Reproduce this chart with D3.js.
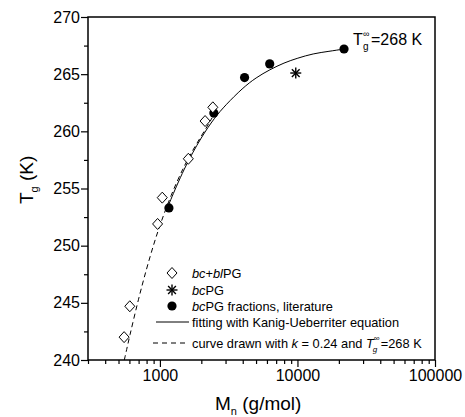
<!DOCTYPE html>
<html lang="en">
<head>
<meta charset="UTF-8">
<script src="https://d3js.org/d3.v7.min.js"></script>
<title>Tg vs Mn</title>
<style>
  body { margin: 0; background: #fff; }
  text { font-family: "Liberation Sans", Arial, sans-serif; fill: #000; }
</style>
</head>
<body>
<script>
// data
const blendM = [549, 604, 962, 1040, 1609, 2130, 2425];
const blendT = [242.0, 244.7, 251.9, 254.2, 257.6, 260.9, 262.1];
const bcM = [9720];
const bcT = [265.1];
const litM = [1163, 2466, 4126, 6283, 21800];
const litT = [253.3, 261.6, 264.7, 265.9, 267.2];
const fitM = [1150, 1500, 2000, 2500, 3000, 4000, 5000, 6300, 8000, 10000, 13000, 17000, 21800];
const fitT = [253.5, 256.8, 259.5, 261.2, 262.3, 263.8, 264.7, 265.4, 266.0, 266.4, 266.8, 267.0, 267.2];
const dashM = [551, 600, 700, 800, 900, 1000, 1200, 1500, 1800, 2200, 2400];
const dashT = [240.0, 242.0, 245.4, 248.0, 250.1, 251.8, 254.4, 257.0, 258.7, 260.4, 261.2];
const xMajor = [1000, 10000, 100000];
const yMajor = [240, 245, 250, 255, 260, 265, 270];

const W = 465, H = 417;
const margin = {top: 17, right: 30, bottom: 57, left: 88};

const svg = d3.select('body').append('svg')
    .attr('width', W)
    .attr('height', H);

const x = d3.scaleLog().domain([300, 100000]).range([margin.left, W - margin.right]);
const y = d3.scaleLinear().domain([240, 270]).range([H - margin.bottom, margin.top]);

const zip = (a, b) => a.map((v, i) => [v, b[i]]);

// axes
const xMinor = x.ticks().filter(t => !xMajor.includes(t));
svg.append('g')
    .attr('transform', `translate(0,${y(240)})`)
    .call(d3.axisBottom(x).tickValues(xMinor).tickSize(4).tickFormat(''))
    .call(g => g.select('.domain').remove());
svg.append('g')
    .attr('transform', `translate(0,${y(240)})`)
    .call(d3.axisBottom(x).tickValues(xMajor).tickSize(7).tickPadding(3).tickFormat(d3.format('d')))
    .call(g => g.select('.domain').remove())
    .call(g => g.selectAll('text').attr('font-size', 16).attr('font-family', '"Liberation Sans", Arial, sans-serif'));

const yMinor = d3.range(242.5, 270, 5);
svg.append('g')
    .attr('transform', `translate(${x(300)},0)`)
    .call(d3.axisLeft(y).tickValues(yMinor).tickSize(4).tickFormat(''))
    .call(g => g.select('.domain').remove());
svg.append('g')
    .attr('transform', `translate(${x(300)},0)`)
    .call(d3.axisLeft(y).tickValues(yMajor).tickSize(7).tickPadding(1))
    .call(g => g.select('.domain').remove())
    .call(g => g.selectAll('text').attr('font-size', 16).attr('font-family', '"Liberation Sans", Arial, sans-serif'));

svg.selectAll('.tick line').attr('stroke', '#000').attr('stroke-width', 1.2);

// frame
svg.append('rect')
    .attr('x', x(300)).attr('y', y(270))
    .attr('width', x(100000) - x(300)).attr('height', y(240) - y(270))
    .attr('fill', 'none').attr('stroke', '#000').attr('stroke-width', 1.5);

// curves
const line = d3.line().x(d => x(d[0])).y(d => y(d[1])).curve(d3.curveBasis);
svg.append('path').datum(zip(dashM, dashT))
    .attr('d', line).attr('fill', 'none').attr('stroke', '#000')
    .attr('stroke-width', 1).attr('stroke-dasharray', '5,3.5');
svg.append('path').datum(zip(fitM, fitT))
    .attr('d', line).attr('fill', 'none').attr('stroke', '#000').attr('stroke-width', 1);

// markers
const diamond = (g, cx, cy) => g.append('path')
    .attr('d', `M${cx},${cy - 5.5}L${cx + 5},${cy}L${cx},${cy + 5.5}L${cx - 5},${cy}Z`)
    .attr('fill', '#fff').attr('stroke', '#000').attr('stroke-width', 1);
const star = (g, cx, cy) => {
    const r = 5.5;
    [0, 45, 90, 135].forEach(a => {
        const rad = a * Math.PI / 180;
        g.append('line')
            .attr('x1', cx - r * Math.cos(rad)).attr('y1', cy - r * Math.sin(rad))
            .attr('x2', cx + r * Math.cos(rad)).attr('y2', cy + r * Math.sin(rad))
            .attr('stroke', '#000').attr('stroke-width', 1.4);
    });
};
const dot = (g, cx, cy) => g.append('circle')
    .attr('cx', cx).attr('cy', cy).attr('r', 4.6).attr('fill', '#000');

const marks = svg.append('g');
zip(litM, litT).forEach(d => dot(marks, x(d[0]), y(d[1])));
zip(blendM, blendT).forEach(d => diamond(marks, x(d[0]), y(d[1])));
zip(bcM, bcT).forEach(d => star(marks, x(d[0]), y(d[1])));

// axis titles
svg.append('text')
    .attr('x', 215).attr('y', 410)
    .attr('font-size', 19)
    .call(t => {
        t.append('tspan').text('M');
        t.append('tspan').attr('font-size', 11).attr('dy', 5).text('n');
        t.append('tspan').attr('dy', -5).text(' (g/mol)');
    });

svg.append('text')
    .attr('transform', 'translate(33,204) rotate(-90)')
    .attr('font-size', 19)
    .call(t => {
        t.append('tspan').text('T');
        t.append('tspan').attr('font-size', 11).attr('dy', 5).text('g');
        t.append('tspan').attr('dy', -5).text(' (K)');
    });

// T_g^inf label
const lab = svg.append('g').attr('transform', 'translate(353,45)');
lab.append('text').attr('font-size', 16).text('T');
lab.append('text').attr('x', 10).attr('y', -8).attr('font-size', 9).text('∞');
lab.append('text').attr('x', 10).attr('y', 5).attr('font-size', 10).text('g');
lab.append('text').attr('x', 18).attr('font-size', 16).text('=268 K');

// legend
const lg = svg.append('g').attr('font-size', 12.8);
const lx = 172, tx = 192;
const rows = [273, 290, 306, 322, 343];
diamond(lg, lx, rows[0]);
star(lg, lx, rows[1]);
dot(lg, lx, rows[2]);
lg.append('line').attr('x1', 156).attr('x2', 189).attr('y1', rows[3]).attr('y2', rows[3])
    .attr('stroke', '#000').attr('stroke-width', 1);
lg.append('line').attr('x1', 153).attr('x2', 189).attr('y1', rows[4]).attr('y2', rows[4])
    .attr('stroke', '#000').attr('stroke-width', 1).attr('stroke-dasharray', '5,4');

const row = (yy) => lg.append('text').attr('x', tx).attr('y', yy + 4.5);
row(rows[0]).call(t => {
    t.append('tspan').attr('font-style', 'italic').text('bc');
    t.append('tspan').text('+');
    t.append('tspan').attr('font-style', 'italic').text('bl');
    t.append('tspan').text('PG');
});
row(rows[1]).call(t => {
    t.append('tspan').attr('font-style', 'italic').text('bc');
    t.append('tspan').text('PG');
});
row(rows[2]).call(t => {
    t.append('tspan').attr('font-style', 'italic').text('bc');
    t.append('tspan').text('PG fractions, literature');
});
row(rows[3]).text('fitting with Kanig-Ueberriter equation');
const last = row(rows[4]);
last.append('tspan').text('curve drawn with ');
last.append('tspan').attr('font-style', 'italic').text('k');
last.append('tspan').text(' = 0.24 and ');
last.append('tspan').attr('font-style', 'italic').text('T');
const lastW = last.node().getComputedTextLength();
lg.append('text').attr('x', tx + lastW).attr('y', rows[4] - 2).attr('font-size', 8).text('∞');
lg.append('text').attr('x', tx + lastW - 1).attr('y', rows[4] + 9).attr('font-size', 8)
    .attr('font-style', 'italic').text('g');
lg.append('text').attr('x', tx + lastW + 7).attr('y', rows[4] + 4.5).text('=268 K');
</script>
</body>
</html>
